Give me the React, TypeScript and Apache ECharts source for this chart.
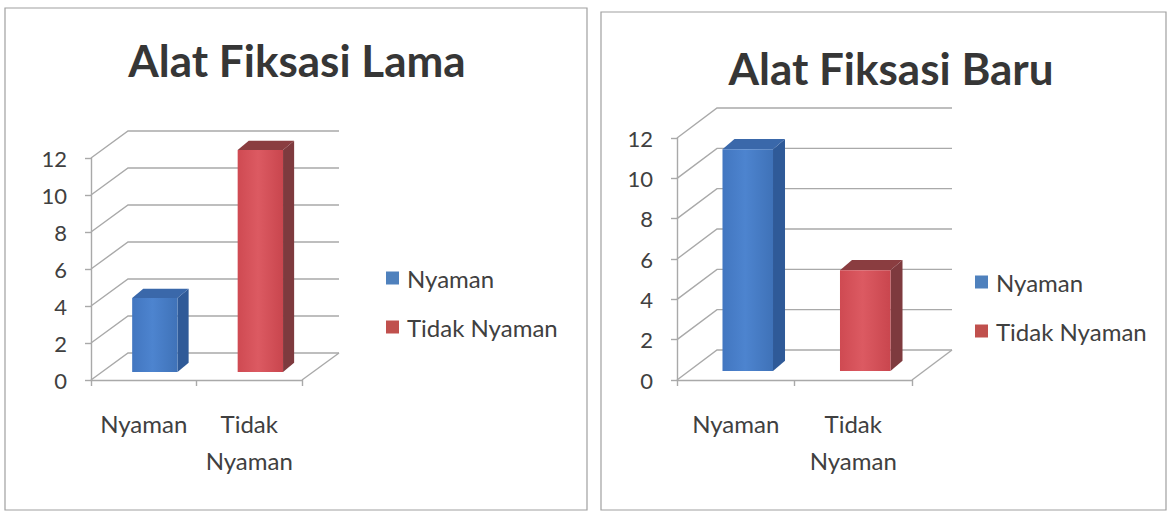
import React, { useEffect, useRef } from "react";
import * as echarts from "echarts";

const categories = ["Nyaman", "Tidak Nyaman"];
const lamaValues = [4, 12];
const baruValues = [11, 5];
const yTicks = [0, 2, 4, 6, 8, 10, 12];
const chartTitles = ["Alat Fiksasi Lama", "Alat Fiksasi Baru"];

const FONT = "Lato, 'Open Sans', sans-serif";
const LEGEND_COLORS = ["#4f81bd", "#c0504d"];
const FRONT_COLORS = [
  ["#4276c0", "#4d84cf", "#3f72b8"],
  ["#cf4a52", "#dc5a62", "#c9464e"],
];
const SIDE_COLORS = ["#2f5a98", "#7e3a3e"];
const TOP_COLORS = ["#3a68aa", "#8a3d40"];
const GRID_LINE = "#a9a9a9";

type Panel = {
  values: number[];
  title: string;
  grid: { left: number; top: number; width: number; height: number };
  depth: [number, number];
  titlePos: [number, number];
  legendPos: [number, number];
  box: [number, number, number, number];
};

const panels: Panel[] = [
  {
    values: lamaValues,
    title: chartTitles[0],
    grid: { left: 91, top: 158, width: 211, height: 222 },
    depth: [37, -27],
    titlePos: [297, 60],
    legendPos: [386, 265],
    box: [5, 8, 582, 502],
  },
  {
    values: baruValues,
    title: chartTitles[1],
    grid: { left: 677, top: 138, width: 235, height: 242 },
    depth: [40, -30],
    titlePos: [891, 68],
    legendPos: [975, 269],
    box: [601, 12, 565, 498],
  },
];

function wallRender(dx: number, dy: number) {
  return (params: any, api: any) => {
    const v = api.value(1);
    const cs = params.coordSys;
    const y = api.coord([0, v])[1];
    const x0 = cs.x;
    const x1 = cs.x + cs.width;
    const style = { stroke: GRID_LINE, lineWidth: 1.4, fill: "none" };
    const children: any[] = [
      {
        type: "polyline",
        shape: { points: [[x0, y], [x0 + dx, y + dy], [x1 + dx, y + dy]] },
        style,
      },
    ];
    if (v === 0) {
      children.push({
        type: "line",
        shape: { x1: x1, y1: y, x2: x1 + dx, y2: y + dy },
        style,
      });
    }
    return { type: "group", children };
  };
}

function barRender(dx: number, dy: number, k: number) {
  return (params: any, api: any) => {
    const ci = api.value(0);
    const v = api.value(1);
    const base = api.coord([ci, 0]);
    const top = api.coord([ci, v]);
    const band = api.size([1, 0])[0];
    const w = band * 0.43;
    const ox = dx * 0.3;
    const oy = dy * 0.3;
    const ddx = dx * 0.3;
    const ddy = dy * 0.34;
    const xl = base[0] - w / 2 + ox;
    const xr = xl + w;
    const yb = base[1] + oy;
    const yt = top[1] + oy;
    const fc = FRONT_COLORS[k];
    return {
      type: "group",
      children: [
        {
          type: "polygon",
          shape: { points: [[xr, yt], [xr + ddx, yt + ddy], [xr + ddx, yb + ddy], [xr, yb]] },
          style: { fill: SIDE_COLORS[k] },
        },
        {
          type: "polygon",
          shape: { points: [[xl, yt], [xl + ddx, yt + ddy], [xr + ddx, yt + ddy], [xr, yt]] },
          style: { fill: TOP_COLORS[k] },
        },
        {
          type: "polygon",
          shape: { points: [[xl, yt], [xr, yt], [xr, yb], [xl, yb]] },
          style: {
            fill: new echarts.graphic.LinearGradient(0, 0, 1, 0, [
              { offset: 0, color: fc[0] },
              { offset: 0.45, color: fc[1] },
              { offset: 1, color: fc[2] },
            ]),
          },
        },
      ],
    };
  };
}

function buildOption() {
  const grids: any[] = [];
  const xAxes: any[] = [];
  const yAxes: any[] = [];
  const series: any[] = [];
  const legends: any[] = [];
  const graphics: any[] = [];

  panels.forEach((p, i) => {
    const [dx, dy] = p.depth;
    grids.push({ ...p.grid, containLabel: false });
    xAxes.push({
      type: "category",
      gridIndex: i,
      data: categories,
      axisLine: { show: true, lineStyle: { color: GRID_LINE, width: 1.4 } },
      axisTick: { show: true, length: 6, lineStyle: { color: GRID_LINE, width: 1.4 } },
      axisLabel: {
        interval: 0,
        hideOverlap: false,
        fontFamily: FONT,
        fontSize: 24,
        lineHeight: 37,
        color: "#404040",
        margin: 25,
        formatter: (s: string) => s.replace(" ", "\n"),
      },
      splitLine: { show: false },
    });
    yAxes.push({
      type: "value",
      gridIndex: i,
      min: 0,
      max: 12,
      interval: 2,
      axisLine: { show: true, lineStyle: { color: GRID_LINE, width: 1.4 } },
      axisTick: { show: true, length: 6, lineStyle: { color: GRID_LINE, width: 1.4 } },
      axisLabel: { fontFamily: FONT, fontSize: 22, color: "#404040", margin: 24 },
      splitLine: { show: false },
    });
    series.push({
      type: "custom",
      name: "wall" + i,
      xAxisIndex: i,
      yAxisIndex: i,
      silent: true,
      clip: false,
      z: 1,
      data: yTicks.map((v) => [0, v]),
      renderItem: wallRender(dx, dy),
    });
    categories.forEach((c, k) => {
      series.push({
        type: "custom",
        name: c,
        xAxisIndex: i,
        yAxisIndex: i,
        clip: false,
        z: 2,
        itemStyle: { color: LEGEND_COLORS[k] },
        data: [[k, p.values[k]]],
        renderItem: barRender(dx, dy, k),
      });
    });
    legends.push({
      data: categories,
      orient: "vertical",
      left: p.legendPos[0],
      top: p.legendPos[1],
      padding: 0,
      icon: "rect",
      itemWidth: 13,
      itemHeight: 13,
      itemGap: 23,
      selectedMode: false,
      textStyle: {
        fontFamily: FONT,
        fontSize: 24,
        lineHeight: 26,
        color: "#404040",
        padding: [0, 0, 0, 3],
      },
    });
    graphics.push({
      type: "rect",
      shape: { x: p.box[0], y: p.box[1], width: p.box[2], height: p.box[3] },
      style: { fill: "none", stroke: "#a0a0a0", lineWidth: 1.2 },
      silent: true,
      z: -1,
    });
    graphics.push({
      type: "text",
      x: p.titlePos[0],
      y: p.titlePos[1],
      style: {
        text: p.title,
        fontFamily: FONT,
        fontWeight: "bold",
        fontSize: 44,
        fill: "#363636",
        textAlign: "center",
        textVerticalAlign: "middle",
      },
    });
  });

  return {
    animation: false,
    backgroundColor: "#ffffff",
    grid: grids,
    xAxis: xAxes,
    yAxis: yAxes,
    legend: legends,
    series,
    graphic: graphics,
  };
}

export default function App() {
  const ref = useRef<HTMLDivElement>(null);
  useEffect(() => {
    if (!ref.current) return;
    const chart = echarts.init(ref.current, undefined, { renderer: "svg" });
    chart.setOption(buildOption() as any);
    return () => chart.dispose();
  }, []);
  return (
    <div
      ref={ref}
      style={{ position: "fixed", left: 0, top: 0, width: 1170, height: 512, background: "#fff" }}
    />
  );
}
